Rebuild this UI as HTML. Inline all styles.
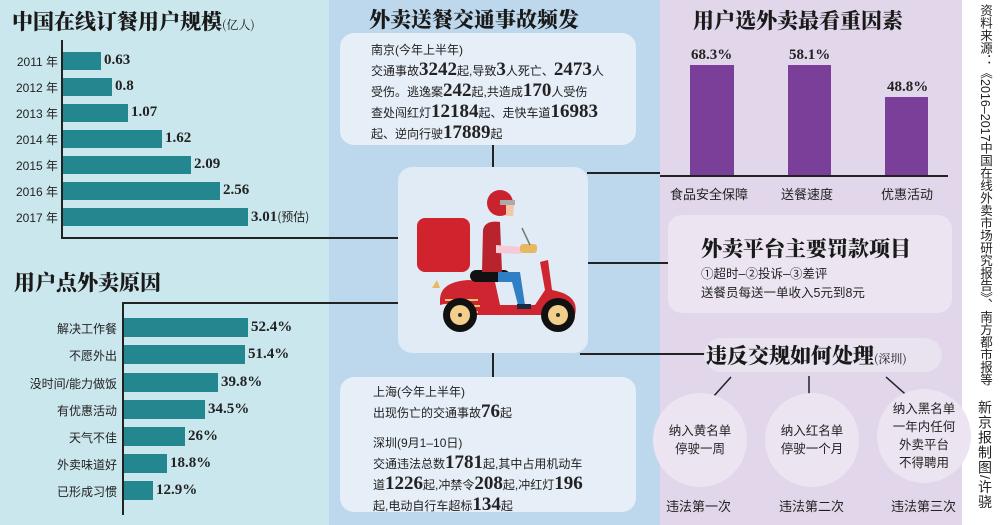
<!DOCTYPE html>
<html><head><meta charset="utf-8">
<style>
*{margin:0;padding:0;box-sizing:border-box}
body{width:1003px;height:525px;position:relative;overflow:hidden;background:#fff;font-family:"Liberation Sans","Noto Sans CJK SC",sans-serif;color:#222}
.a{position:absolute}
.t{font-family:"Noto Serif CJK SC",serif;font-weight:900;font-size:21px;white-space:nowrap;color:#1a1a1a}
.bar{position:absolute;background:#24868f;height:18px}
.lab{position:absolute;font-size:12px;white-space:nowrap;text-align:right}
.val{position:absolute;font-family:"Liberation Serif",serif;font-weight:bold;font-size:15px;white-space:nowrap}
.box{position:absolute;background:#e6eef7;border-radius:14px}
.txt{font-size:12px;line-height:19px;white-space:nowrap}
.n{font-family:"Liberation Serif",serif;font-weight:bold;font-size:19px}
.circ{position:absolute;width:94px;height:94px;border-radius:50%;background:#ece5f1;font-size:12.5px;line-height:18px;text-align:center;display:flex;align-items:center;justify-content:center}
.cl{position:absolute;font-size:13px;white-space:nowrap}
</style></head><body>
<div class="a" style="left:0;top:0;width:329px;height:525px;background:#cbe7ee"></div>
<div class="a" style="left:329px;top:0;width:331px;height:525px;background:#bdd8ec"></div>
<div class="a" style="left:660px;top:0;width:302px;height:525px;background:#e2d6ea"></div>

<div class="a t" style="left:12px;top:6px;font-size:21px">中国在线订餐用户规模<span style="font-size:12px;font-weight:normal">(亿人)</span></div>
<div class="a" style="left:61px;top:40px;width:2px;height:199px;background:#222"></div>
<div class="a" style="left:61px;top:237px;width:337px;height:2px;background:#222"></div>
<div class="bar" style="left:63px;top:52px;width:38px"></div><div class="val" style="left:104px;top:52px">0.63</div><div class="lab" style="left:8px;top:53px;width:50px">2011 年</div>
<div class="bar" style="left:63px;top:78px;width:49px"></div><div class="val" style="left:115px;top:78px">0.8</div><div class="lab" style="left:8px;top:79px;width:50px">2012 年</div>
<div class="bar" style="left:63px;top:104px;width:65px"></div><div class="val" style="left:131px;top:104px">1.07</div><div class="lab" style="left:8px;top:105px;width:50px">2013 年</div>
<div class="bar" style="left:63px;top:130px;width:99px"></div><div class="val" style="left:165px;top:130px">1.62</div><div class="lab" style="left:8px;top:131px;width:50px">2014 年</div>
<div class="bar" style="left:63px;top:156px;width:128px"></div><div class="val" style="left:194px;top:156px">2.09</div><div class="lab" style="left:8px;top:157px;width:50px">2015 年</div>
<div class="bar" style="left:63px;top:182px;width:157px"></div><div class="val" style="left:223px;top:182px">2.56</div><div class="lab" style="left:8px;top:183px;width:50px">2016 年</div>
<div class="bar" style="left:63px;top:208px;width:185px"></div><div class="val" style="left:251px;top:208px">3.01<span style="font-size:12px;font-weight:normal;font-family:'Noto Sans CJK SC'">(预估)</span></div><div class="lab" style="left:8px;top:209px;width:50px">2017 年</div>

<div class="a t" style="left:14px;top:267px">用户点外卖原因</div>
<div class="a" style="left:122px;top:303px;width:2px;height:212px;background:#222"></div>
<div class="a" style="left:122px;top:302px;width:276px;height:2px;background:#222"></div>
<div class="bar" style="left:124px;top:318px;width:124px;height:19px"></div><div class="val" style="left:251px;top:319px">52.4%</div><div class="lab" style="left:10px;top:320px;width:107px">解决工作餐</div>
<div class="bar" style="left:124px;top:345px;width:121px;height:19px"></div><div class="val" style="left:248px;top:346px">51.4%</div><div class="lab" style="left:10px;top:347px;width:107px">不愿外出</div>
<div class="bar" style="left:124px;top:373px;width:94px;height:19px"></div><div class="val" style="left:221px;top:374px">39.8%</div><div class="lab" style="left:10px;top:375px;width:107px">没时间/能力做饭</div>
<div class="bar" style="left:124px;top:400px;width:81px;height:19px"></div><div class="val" style="left:208px;top:401px">34.5%</div><div class="lab" style="left:10px;top:402px;width:107px">有优惠活动</div>
<div class="bar" style="left:124px;top:427px;width:61px;height:19px"></div><div class="val" style="left:188px;top:428px">26%</div><div class="lab" style="left:10px;top:429px;width:107px">天气不佳</div>
<div class="bar" style="left:124px;top:454px;width:43px;height:19px"></div><div class="val" style="left:170px;top:455px">18.8%</div><div class="lab" style="left:10px;top:456px;width:107px">外卖味道好</div>
<div class="bar" style="left:124px;top:481px;width:29px;height:19px"></div><div class="val" style="left:156px;top:482px">12.9%</div><div class="lab" style="left:10px;top:483px;width:107px">已形成习惯</div>

<div class="a t" style="left:369px;top:4px">外卖送餐交通事故频发</div>
<div class="box" style="left:340px;top:33px;width:296px;height:112px"></div>
<div class="a txt" style="left:371px;top:41px">南京(今年上半年)<br>交通事故<span class="n">3242</span>起,导致<span class="n">3</span>人死亡、<span class="n">2473</span>人<br>受伤。逃逸案<span class="n">242</span>起,共造成<span class="n">170</span>人受伤<br>查处闯红灯<span class="n">12184</span>起、走快车道<span class="n">16983</span><br>起、逆向行驶<span class="n">17889</span>起</div>
<div class="a" style="left:492px;top:145px;width:2px;height:22px;background:#222"></div>
<div class="a" style="left:587px;top:172px;width:73px;height:2px;background:#222"></div>
<div class="a" style="left:587px;top:262px;width:81px;height:2px;background:#222"></div>
<div class="a" style="left:580px;top:353px;width:125px;height:2px;background:#222"></div>
<div class="box" style="left:398px;top:167px;width:190px;height:186px;background:#e1ebf6"></div>
<svg class="a" style="left:398px;top:167px" width="190" height="186" viewBox="398 167 190 186">
<rect x="417" y="218" width="53" height="54" rx="8" fill="#d0232e"/>
<path d="M437 280 L432 288 L440 288 Z" fill="#e8b860"/>
<path d="M440 300 Q440 282 468 280 L495 282 L500 305 L535 305 L545 290 L540 262 L548 260 L552 290 Q580 295 575 315 L470 315 Q455 300 440 305 Z" fill="#cf2530"/>
<rect x="470" y="270" width="40" height="12" rx="6" fill="#111"/>
<path d="M483 230 Q485 220 500 222 L502 272 L482 272 Z" fill="#b8232d"/>
<path d="M498 272 L520 272 L525 305 L518 305 L512 282 L498 282 Z" fill="#2f7fc4"/>
<rect x="517" y="304" width="14" height="5" fill="#1a2b44"/>
<path d="M496 245 L520 247 L521 254 L496 253 Z" fill="#f5c9d6"/>
<rect x="520" y="244" width="17" height="9" rx="3" fill="#e8b860"/>
<line x1="522" y1="228" x2="530" y2="245" stroke="#777" stroke-width="1.5"/>
<circle cx="500" cy="203" r="13" fill="#c9232e"/>
<rect x="500" y="200" width="15" height="5" fill="#aaa"/>
<path d="M506 205 L514 205 L513 216 L506 216 Z" fill="#f3c4a6"/>
<path d="M445 300 L478 300" stroke="#f5c36a" stroke-width="2"/>
<path d="M446 306 L480 306" stroke="#f5c36a" stroke-width="2"/>
<path d="M448 312 L478 312" stroke="#f5c36a" stroke-width="2"/>
<circle cx="460" cy="315" r="17" fill="#111"/><circle cx="460" cy="315" r="10" fill="#f2cf8a"/><circle cx="460" cy="315" r="2" fill="#333"/>
<circle cx="558" cy="315" r="17" fill="#111"/><circle cx="558" cy="315" r="10" fill="#f2cf8a"/><circle cx="558" cy="315" r="2" fill="#333"/>
</svg>
<div class="a" style="left:492px;top:353px;width:2px;height:24px;background:#222"></div>
<div class="box" style="left:340px;top:377px;width:296px;height:135px"></div>
<div class="a txt" style="left:373px;top:383px">上海(今年上半年)<br>出现伤亡的交通事故<span class="n">76</span>起</div>
<div class="a txt" style="left:373px;top:434px">深圳(9月1–10日)<br>交通违法总数<span class="n">1781</span>起,其中占用机动车<br>道<span class="n">1226</span>起,冲禁令<span class="n">208</span>起,冲红灯<span class="n">196</span><br>起,电动自行车超标<span class="n">134</span>起</div>

<div class="a t" style="left:693px;top:5px">用户选外卖最看重因素</div>
<div class="a" style="left:690px;top:65px;width:44px;height:110px;background:#7a3f98"></div>
<div class="a" style="left:788px;top:65px;width:43px;height:110px;background:#7a3f98"></div>
<div class="a" style="left:885px;top:97px;width:43px;height:78px;background:#7a3f98"></div>
<div class="a" style="left:660px;top:175px;width:288px;height:2px;background:#222"></div>
<div class="val" style="left:691px;top:47px">68.3%</div>
<div class="val" style="left:789px;top:47px">58.1%</div>
<div class="val" style="left:887px;top:79px">48.8%</div>
<div class="cl" style="left:670px;top:184px">食品安全保障</div>
<div class="cl" style="left:781px;top:184px">送餐速度</div>
<div class="cl" style="left:881px;top:184px">优惠活动</div>
<div class="box" style="left:668px;top:215px;width:284px;height:98px;background:#ece5f1"></div>
<div class="a t" style="left:701px;top:233px">外卖平台主要罚款项目</div>
<div class="a txt" style="left:701px;top:265px;font-size:12.5px">①超时–②投诉–③差评<br>送餐员每送一单收入5元到8元</div>
<div class="a" style="left:704px;top:338px;width:238px;height:34px;border-radius:17px;background:#e9e2ef"></div>
<div class="a t" style="left:706px;top:340px">违反交规如何处理<span style="font-size:12px;font-weight:normal">(深圳)</span></div>
<svg class="a" style="left:660px;top:370px" width="300" height="40"><line x1="71" y1="7" x2="44" y2="37" stroke="#222" stroke-width="1.5"/><line x1="149" y1="6" x2="149" y2="38" stroke="#222" stroke-width="1.5"/><line x1="226" y1="7" x2="261" y2="38" stroke="#222" stroke-width="1.5"/></svg>
<div class="circ" style="left:653px;top:393px">纳入黄名单<br>停驶一周</div>
<div class="circ" style="left:765px;top:393px">纳入红名单<br>停驶一个月</div>
<div class="circ" style="left:877px;top:389px">纳入黑名单<br>一年内任何<br>外卖平台<br>不得聘用</div>
<div class="cl" style="left:666px;top:496px">违法第一次</div>
<div class="cl" style="left:779px;top:496px">违法第二次</div>
<div class="cl" style="left:891px;top:496px">违法第三次</div>

<div class="a" style="left:975px;top:4px;width:18px;height:390px;font-size:12.5px;line-height:16px;writing-mode:vertical-rl;white-space:nowrap">资料来源：《2016–2017中国在线外卖市场研究报告》、南方都市报等</div>
<div class="a" style="left:975px;top:400px;width:18px;font-size:14px;line-height:16px;letter-spacing:1px;writing-mode:vertical-rl;white-space:nowrap">新京报制图/许骁</div>
</body></html>
